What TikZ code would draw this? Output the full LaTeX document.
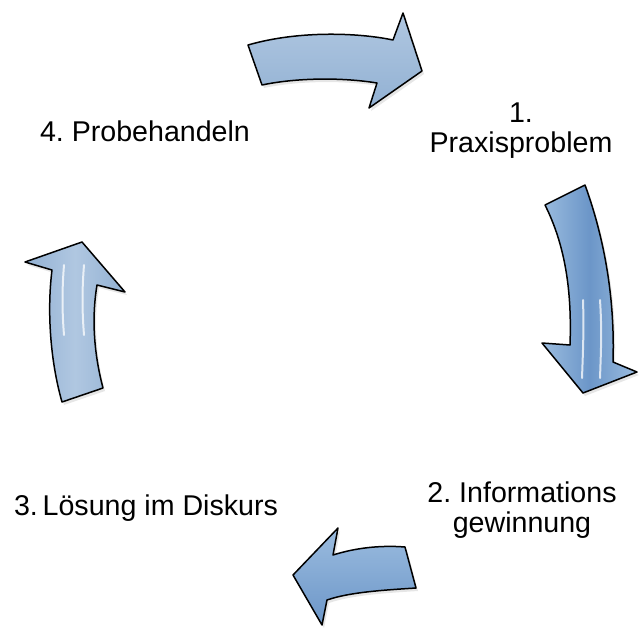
\documentclass[tikz,border=0pt]{standalone}
\usepackage{fontspec}
\setmainfont{Liberation Sans}
\usetikzlibrary{shadows}
\definecolor{Steel-1}{RGB}{176,199,225}
\definecolor{Steel-2}{RGB}{146,177,211}
\definecolor{Steel-3}{RGB}{108,150,200}
\definecolor{Steel-4}{RGB}{155,188,223}
\frenchspacing

\begin{document}
\begin{tikzpicture}[x=1pt, y=-1pt,
    blk/.style={draw=black, line width=1.5pt, line join=round, drop shadow={shadow xshift=2pt, shadow yshift=-3pt, opacity=0.2}},
    lbl/.style={font=\fontsize{28.6}{30}\selectfont, inner sep=0pt, align=center},
    gloss/.style={white, line width=2pt, line cap=round, opacity=0.75}]
  \useasboundingbox (0,0) rectangle (639,627);

  \node[lbl, anchor=north] (prx) at (521,103) {1.\\Praxisproblem};
  \node[lbl, anchor=north] (inf) at (522,482) {2. Informations\\gewinnung};
  \node[lbl, anchor=base ] (lsg) at (146,515) {3.\,Lösung im Diskurs};
  \node[lbl, anchor=base ] (prb) at (145,141) {4. Probehandeln};

  % top: 4 -> 1
  \path[blk, top color=Steel-1, bottom color=Steel-2] (248,45) .. controls (300,30) and (360,33) .. (393,40) -- (403,13) -- (422,71) -- (369,108) -- (377,83) .. controls (340,77) and (295,78) .. (262,85) -- cycle;
  % right: 1 -> 2
  \path[blk, left color=Steel-4, right color=Steel-4, middle color=Steel-3] (545,205) -- (585,185) .. controls (605,240) and (615,300) .. (613,362) -- (637,372) -- (583,393) -- (542,343) -- (570,345) .. controls (572,290) and (565,245) .. (545,205) -- cycle;
  \draw[gloss] (583,300) .. controls (584,330) and (583,350) .. (582,378);
  \draw[gloss] (600,300) .. controls (602,330) and (601,350) .. (600,378);
  % bottom: 2 -> 3
  \path[blk, top color=Steel-4, bottom color=Steel-3] (405,547) -- (416,588) .. controls (385,590) and (350,592) .. (327,600) -- (322,625) -- (293,575) -- (338,528) -- (333,555) .. controls (355,548) and (380,545) .. (405,547) -- cycle;
  % left: 3 -> 4
  \path[blk, left color=Steel-2, right color=Steel-2, middle color=Steel-1] (62,402) -- (103,388) .. controls (93,350) and (92,315) .. (97,285) -- (125,292) -- (82,242) -- (25,262) -- (52,270) .. controls (47,310) and (50,360) .. (62,402) -- cycle;
  \draw[gloss] (64,265) .. controls (62,290) and (62,310) .. (64,335);
  \draw[gloss] (84,265) .. controls (82,290) and (82,310) .. (84,335);
\end{tikzpicture}
\end{document}
